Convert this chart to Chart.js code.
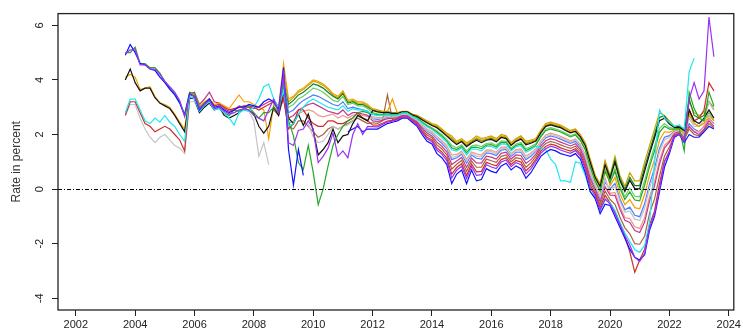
<!DOCTYPE html>
<html><head><meta charset="utf-8">
<script src="https://cdn.jsdelivr.net/npm/chart.js@4.4.1/dist/chart.umd.min.js"></script>
<style>html,body{margin:0;padding:0;background:#fff;overflow:hidden}</style>
</head><body><canvas id="c" width="743" height="333"></canvas>
<script>
const N = null;
const dates = [
"2003-09","2003-11",
"2004-01","2004-03","2004-05","2004-07","2004-09","2004-11",
"2005-01","2005-03","2005-05","2005-07","2005-09","2005-11",
"2006-01","2006-03","2006-05","2006-07","2006-09","2006-11",
"2007-01","2007-03","2007-05","2007-07","2007-09","2007-11",
"2008-01","2008-03","2008-05","2008-07","2008-09","2008-11",
"2009-01","2009-03","2009-05","2009-07","2009-09","2009-11",
"2010-01","2010-03","2010-05","2010-07","2010-09","2010-11",
"2011-01","2011-03","2011-05","2011-07","2011-09","2011-11",
"2012-01","2012-03","2012-05","2012-07","2012-09","2012-11",
"2013-01","2013-03","2013-05","2013-07","2013-09","2013-11",
"2014-01","2014-03","2014-05","2014-07","2014-09","2014-11",
"2015-01","2015-03","2015-05","2015-07","2015-09","2015-11",
"2016-01","2016-03","2016-05","2016-07","2016-09","2016-11",
"2017-01","2017-03","2017-05","2017-07","2017-09","2017-11",
"2018-01","2018-03","2018-05","2018-07","2018-09","2018-11",
"2019-01","2019-03","2019-05","2019-07","2019-09","2019-11",
"2020-01","2020-03","2020-05","2020-07","2020-09","2020-11",
"2021-01","2021-03","2021-05","2021-07","2021-09","2021-11",
"2022-01","2022-03","2022-05","2022-07","2022-09","2022-11",
"2023-01","2023-03","2023-05","2023-07"];

const xTicks = [2002,2004,2006,2008,2010,2012,2014,2016,2018,2020,2022,2024];
const yTicks = [-4,-2,0,2,4,6];

const blue = [
4.9,5.3,
5.0,4.6,4.55,4.4,4.35,4.1,
3.9,3.65,3.45,3.15,2.7,3.5,
3.4,2.9,3.1,3.3,3.0,3.05,
2.9,2.8,2.9,3.0,3.0,3.1,
3.05,3.0,3.2,3.3,3.2,2.9,
4.45,1.45,0.15,1.45,0.5,N,
N,N,N,N,N,N,
N,2.1,2.2,2.3,2.1,2.2,
2.2,2.2,2.3,2.4,2.45,2.5,
2.6,2.6,2.45,2.3,2.0,1.75,
1.65,1.3,1.15,0.9,0.2,0.55,
0.7,0.2,0.7,0.3,0.35,0.75,
0.65,0.6,0.85,0.95,0.7,0.85,
0.75,0.4,0.6,0.9,1.2,1.35,
1.45,1.4,1.3,1.25,1.2,1.3,
1.1,0.6,-0.1,-0.35,-0.9,-0.55,
-0.6,-1.0,-1.4,-1.8,-2.2,-2.5,
-2.6,-2.4,-1.5,-1.0,-0.1,0.8,
1.3,1.9,2.0,1.7,2.0,1.9,
1.9,2.1,2.3,2.2];

const green = [
5.0,5.0,
5.2,4.6,4.6,4.45,4.45,4.25,
3.95,3.7,3.5,3.2,2.75,3.55,
3.5,3.0,3.15,3.3,2.95,2.95,
2.8,2.7,2.9,2.85,2.95,3.0,
2.8,2.6,2.8,2.8,3.0,2.8,
3.7,2.5,1.95,0.97,0.72,1.6,
0.6,-0.57,0.0,0.85,1.6,2.0,
2.3,2.5,2.6,2.8,2.85,2.8,
2.76,2.73,2.71,2.74,2.71,2.72,
2.79,2.79,2.68,2.6,2.45,2.31,
2.21,2.09,1.94,1.76,1.51,1.45,
1.56,1.33,1.53,1.54,1.48,1.61,
1.63,1.54,1.71,1.7,1.45,1.6,
1.65,1.41,1.5,1.61,1.91,2.14,
2.2,2.15,2.09,2.0,1.91,1.98,
1.78,1.43,0.8,0.29,-0.08,0.65,
0.23,0.65,0.03,-0.38,-0.1,-0.4,
-0.43,0.15,0.83,1.4,2.08,2.3,
2.2,2.2,2.22,1.4,3.55,2.95,
2.6,2.5,3.55,3.05];

const purple = [
4.95,5.1,
5.1,4.55,4.55,4.4,4.4,4.2,
3.95,3.75,3.55,3.25,2.65,3.45,
3.4,2.95,3.1,3.25,2.95,3.0,
2.85,2.75,2.8,2.9,2.95,2.9,
2.7,2.6,2.5,2.9,3.3,2.8,
4.2,1.7,1.6,2.15,2.2,2.5,
2.2,0.97,1.2,1.5,2.05,1.2,
1.4,1.15,2.0,2.4,2.0,2.3,
2.29,2.28,2.37,2.45,2.49,2.54,
2.63,2.63,2.49,2.35,2.07,1.84,
1.74,1.43,1.28,1.04,0.41,0.69,
0.84,0.38,0.83,0.5,0.53,0.89,
0.81,0.75,0.99,1.07,0.82,0.97,
0.89,0.56,0.74,1.01,1.31,1.48,
1.57,1.52,1.43,1.37,1.31,1.41,
1.21,0.73,0.04,-0.25,-0.77,-0.36,
-0.55,-0.89,-1.3,-1.7,-2.05,-2.5,
-2.65,-2.35,-1.4,-0.9,0.0,1.0,
1.35,1.95,2.0,1.75,3.3,3.9,
3.3,3.6,6.3,4.85];

const black = [
4.0,4.4,
3.9,3.6,3.7,3.7,3.35,3.15,
3.05,2.95,2.7,2.4,2.1,3.35,
3.3,2.8,3.0,3.15,2.9,3.0,
2.7,2.6,2.7,2.8,2.95,2.9,
2.75,2.3,2.05,2.3,3.0,2.7,
3.6,2.6,2.4,2.75,2.33,2.75,
2.15,1.25,1.45,1.7,2.2,1.7,
1.95,2.0,2.4,2.7,2.6,2.5,
2.88,2.83,2.8,2.81,2.77,2.77,
2.83,2.83,2.72,2.66,2.54,2.43,
2.33,2.25,2.1,1.94,1.78,1.63,
1.74,1.55,1.69,1.79,1.7,1.79,
1.82,1.73,1.89,1.85,1.6,1.75,
1.83,1.62,1.68,1.76,2.06,2.3,
2.35,2.3,2.25,2.15,2.06,2.11,
1.91,1.59,0.98,0.42,0.09,0.89,
0.39,0.98,0.31,-0.09,0.32,0.02,
0.01,0.66,1.29,1.88,2.51,2.6,
2.38,2.26,2.27,2.15,2.9,2.5,
2.4,2.6,2.9,2.6];

const orange = [
4.1,4.2,
4.1,3.65,3.7,3.75,3.4,3.15,
3.1,3.0,2.75,2.45,2.2,3.5,
3.45,3.05,3.2,3.3,3.1,3.15,
3.05,2.95,3.2,3.45,3.2,3.2,
3.1,3.0,2.9,1.85,3.1,3.0,
4.6,3.3,3.4,3.6,3.7,3.85,
4.0,3.95,3.85,3.7,3.5,3.4,
3.6,3.25,3.3,3.2,3.2,3.1,
2.92,2.87,2.83,2.83,3.3,2.79,
2.84,2.84,2.74,2.68,2.58,2.47,
2.37,2.31,2.16,2.0,1.88,1.7,
1.8,1.64,1.76,1.88,1.79,1.85,
1.9,1.8,1.95,1.91,1.66,1.81,
1.9,1.7,1.75,1.81,2.11,2.36,
2.41,2.36,2.31,2.21,2.11,2.16,
1.96,1.66,1.05,0.47,0.16,0.99,
0.12,0.43,-0.17,-0.57,-0.38,-0.68,
-0.72,-0.19,0.52,1.08,1.79,2.1,
2.08,2.16,2.2,2.03,2.8,2.4,
2.3,2.4,2.7,2.5];

const red = [
2.7,3.2,
3.2,2.8,2.4,2.3,2.1,2.2,
2.3,2.2,2.0,1.8,1.4,3.3,
3.4,2.9,3.15,3.3,3.05,3.1,
3.0,2.9,2.95,3.0,3.05,3.05,
3.0,2.9,3.0,3.1,3.2,2.9,
3.3,2.2,2.4,2.9,2.9,2.6,
2.4,2.3,2.3,2.5,2.5,2.4,
2.4,2.5,2.6,2.8,2.6,2.5,
2.35,2.34,2.41,2.49,2.52,2.56,
2.65,2.65,2.51,2.38,2.12,1.9,
1.8,1.51,1.36,1.13,0.55,0.79,
0.93,0.5,0.92,0.63,0.65,0.98,
0.91,0.85,1.08,1.15,0.9,1.05,
0.99,0.67,0.84,1.09,1.39,1.56,
1.65,1.6,1.51,1.45,1.39,1.48,
1.28,0.82,0.14,-0.18,-0.68,-0.23,
-0.5,-0.85,-1.3,-1.75,-2.3,-3.05,
-2.6,-2.2,-1.3,-0.8,0.2,1.0,
1.4,1.95,2.03,1.75,2.9,2.5,
2.6,2.9,3.9,3.6];

const cyan = [
2.8,3.3,
3.3,2.9,2.5,2.4,2.6,2.45,
2.7,2.45,2.3,2.0,1.75,3.4,
3.3,2.85,3.05,3.2,2.9,2.95,
2.8,2.6,2.35,2.8,2.9,2.85,
3.0,3.3,3.75,3.85,3.3,3.0,
3.6,2.3,2.4,2.75,3.0,3.2,
3.3,3.2,3.1,3.0,2.95,2.9,
3.05,2.85,2.95,2.9,2.9,2.85,
2.73,2.69,2.69,2.72,2.7,2.71,
2.78,2.78,2.66,2.58,2.42,2.28,
2.18,2.04,1.89,1.71,1.43,1.39,
1.51,1.25,1.47,1.46,1.4,1.56,
1.56,1.48,1.66,1.65,1.4,1.55,
1.59,1.35,1.44,1.57,1.5,1.45,
1.1,0.9,0.3,0.3,0.25,1.0,
0.95,0.5,-0.1,-0.3,-0.8,-0.4,
-0.49,-0.78,-1.21,-1.61,-1.92,-2.22,
-2.31,-2.06,-1.19,1.0,2.9,2.6,
2.45,2.3,2.35,2.2,4.3,4.8,
N,N,N,N];

const gray = [
2.7,3.1,
3.1,2.6,2.2,1.9,1.7,1.9,
2.0,1.8,1.6,1.5,1.3,3.2,
3.2,2.8,3.0,3.2,2.95,3.0,
2.75,2.7,2.8,2.9,2.9,2.85,
2.5,1.2,1.7,0.9,N,N,
N,N,N,N,N,2.4,
1.9,1.7,1.75,2.0,2.3,2.2,
2.3,2.35,2.5,2.65,2.6,2.55,
2.61,2.59,2.6,2.65,2.64,2.67,
2.74,2.74,2.62,2.52,2.33,2.16,
2.06,1.88,1.73,1.53,1.16,1.21,
1.33,1.03,1.31,1.21,1.18,1.38,
1.37,1.29,1.48,1.5,1.25,1.4,
1.41,1.14,1.26,1.42,1.72,1.93,
2.0,1.95,1.88,1.8,1.72,1.8,
1.6,1.2,0.56,0.12,-0.3,0.33,
-0.05,0.1,-0.45,-0.85,-0.8,-1.1,
-1.15,-0.7,0.05,0.6,1.35,1.8,
1.9,2.1,2.15,1.95,2.6,2.3,
2.3,2.5,3.2,2.9];

const magenta = [
N,N,
N,N,N,N,N,N,
N,N,N,N,N,3.5,
3.55,3.1,3.3,3.55,3.2,3.15,
2.95,2.85,2.9,3.05,3.0,3.0,
2.95,3.0,3.1,3.2,3.25,3.0,
3.5,2.6,2.7,2.9,3.0,3.1,
3.15,3.05,2.95,2.85,2.8,2.75,
2.9,2.7,2.8,2.8,2.75,2.7,
2.5,2.48,2.52,2.58,2.59,2.62,
2.7,2.7,2.57,2.46,2.24,2.05,
1.95,1.72,1.57,1.36,0.9,1.03,
1.16,0.8,1.14,0.96,0.95,1.21,
1.17,1.1,1.31,1.35,1.1,1.25,
1.23,0.94,1.08,1.28,1.58,1.77,
1.85,1.8,1.72,1.65,1.58,1.66,
1.46,1.04,0.38,-0.01,-0.46,0.09,
-0.22,-0.23,-0.74,-1.14,-1.22,-1.52,
-1.59,-1.21,-0.42,0.12,0.92,1.5,
1.72,2.04,2.1,1.88,2.3,2.1,
2.0,2.2,2.5,2.3];

const olive = [
N,N,
N,N,N,N,N,N,
N,N,N,N,N,N,
N,N,N,N,N,N,
N,N,N,N,N,N,
N,N,N,N,3.2,3.0,
4.3,3.2,3.35,3.55,3.65,3.8,
3.95,3.9,3.8,3.65,3.45,3.35,
3.55,3.2,3.25,3.15,3.15,3.05,
2.95,2.9,2.85,2.85,2.8,2.8,
2.85,2.85,2.75,2.7,2.6,2.5,
2.4,2.35,2.2,2.05,1.95,1.75,
1.85,1.7,1.8,1.95,1.85,1.9,
1.95,1.85,2.0,1.95,1.7,1.85,
1.95,1.75,1.8,1.85,2.15,2.4,
2.45,2.4,2.35,2.25,2.15,2.2,
2.0,1.7,1.1,0.5,0.2,1.05,
0.5,1.2,0.5,0.1,0.6,0.3,
0.3,1.0,1.6,2.2,2.8,2.7,
2.5,2.3,2.3,2.2,3.2,2.8,
2.7,2.8,3.2,3.0];

const dkgreen = [
N,N,
N,N,N,N,N,N,
N,N,N,N,N,N,
N,N,N,N,N,N,
N,N,N,N,N,N,
N,N,N,N,3.15,2.95,
3.9,3.1,3.25,3.45,3.55,3.7,
3.85,3.8,3.7,3.55,3.4,3.3,
3.5,3.15,3.2,3.1,3.1,3.0,
2.9,2.86,2.82,2.82,2.78,2.78,
2.83,2.83,2.73,2.68,2.56,2.45,
2.35,2.29,2.14,1.98,1.85,1.68,
1.78,1.61,1.73,1.85,1.76,1.83,
1.87,1.78,1.93,1.89,1.64,1.79,
1.88,1.67,1.73,1.79,2.09,2.34,
2.39,2.34,2.29,2.19,2.09,2.15,
1.95,1.63,1.03,0.45,0.13,0.95,
0.43,1.07,0.39,-0.01,0.43,0.13,
0.13,0.8,1.41,2.0,2.63,2.68,
2.43,2.28,2.28,2.17,3.3,2.7,
2.6,2.7,3.2,2.9];

const lgreen = [
N,N,
N,N,N,N,N,N,
N,N,N,N,N,N,
N,N,N,N,N,N,
N,N,N,N,N,N,
N,N,N,N,3.1,2.9,
3.7,3.0,3.1,3.3,3.4,3.55,
3.7,3.65,3.55,3.4,3.25,3.2,
3.4,3.1,3.15,3.05,3.05,2.95,
2.8,2.76,2.74,2.76,2.73,2.74,
2.8,2.8,2.69,2.62,2.48,2.35,
2.25,2.14,1.99,1.82,1.6,1.51,
1.62,1.4,1.58,1.62,1.55,1.67,
1.69,1.6,1.77,1.75,1.5,1.65,
1.71,1.48,1.56,1.66,1.96,2.19,
2.25,2.2,2.14,2.05,1.96,2.02,
1.82,1.48,0.86,0.33,-0.02,0.73,
0.28,0.76,0.12,-0.28,0.04,-0.26,
-0.28,0.32,0.98,1.56,2.22,2.4,
2.26,2.22,2.24,2.1,2.7,2.4,
2.3,2.5,2.8,2.5];

const royal = [
N,N,
N,N,N,N,N,N,
N,N,N,N,N,N,
N,N,N,N,N,N,
N,N,N,N,N,N,
N,N,N,N,3.3,3.0,
4.0,2.8,2.9,3.1,3.25,3.35,
3.45,3.4,3.3,3.2,3.1,3.05,
3.2,2.95,3.0,2.95,2.9,2.85,
2.58,2.55,2.58,2.63,2.63,2.65,
2.73,2.73,2.6,2.5,2.3,2.13,
2.03,1.83,1.68,1.48,1.08,1.15,
1.28,0.95,1.25,1.13,1.1,1.33,
1.3,1.23,1.43,1.45,1.2,1.35,
1.35,1.08,1.2,1.38,1.68,1.88,
1.95,1.9,1.83,1.75,1.68,1.75,
1.55,1.15,0.5,0.08,-0.35,0.25,
0.01,0.21,-0.36,-0.76,-0.66,-0.96,
-1.01,-0.53,0.2,0.76,1.5,1.9,
1.96,2.12,2.17,1.98,2.4,2.2,
2.1,2.3,2.6,2.4];

const salmon = [
N,N,
N,N,N,N,N,N,
N,N,N,N,N,N,
N,N,N,N,N,N,
N,N,N,N,N,N,
N,N,N,N,3.0,2.8,
3.3,2.4,2.5,2.75,2.85,2.9,
2.85,2.7,2.65,2.7,2.75,2.6,
2.7,2.6,2.7,2.75,2.7,2.65,
2.65,2.62,2.63,2.67,2.66,2.68,
2.75,2.75,2.63,2.54,2.36,2.2,
2.1,1.93,1.78,1.59,1.25,1.27,
1.39,1.1,1.36,1.29,1.25,1.44,
1.43,1.35,1.54,1.55,1.3,1.45,
1.47,1.21,1.32,1.47,1.77,1.98,
2.05,2.0,1.93,1.85,1.77,1.84,
1.64,1.26,0.62,0.16,-0.24,0.41,
-0.16,-0.12,-0.64,-1.04,-1.08,-1.38,
-1.44,-1.04,-0.26,0.28,1.06,1.6,
1.78,2.06,2.12,1.9,2.3,2.1,
2.1,2.3,2.6,2.4];

const brown = [
N,N,
N,N,N,N,N,N,
N,N,N,N,N,N,
N,N,N,N,N,N,
N,N,N,N,N,N,
N,N,N,N,2.9,2.7,
3.4,2.3,2.2,2.5,2.5,2.3,
2.1,1.9,2.0,2.2,2.3,2.2,
2.3,2.4,2.5,2.6,2.5,2.4,
2.43,2.41,2.5,3.45,2.55,2.59,
2.68,2.68,2.54,2.42,2.18,1.98,
1.88,1.62,1.47,1.25,0.73,0.91,
1.05,0.65,1.03,0.8,0.8,1.1,
1.04,0.98,1.2,1.25,1.0,1.15,
1.11,0.8,0.96,1.19,1.49,1.67,
1.75,1.7,1.62,1.55,1.49,1.57,
1.37,0.93,0.26,-0.1,-0.57,-0.07,
-0.38,-0.56,-1.02,-1.42,-1.64,-2.0,
-2.02,-1.72,-0.88,-0.36,0.48,1.2,
1.54,1.98,2.06,1.8,2.2,2.0,
1.95,2.15,2.4,2.25];

const FONT = "'Liberation Sans', Arial, Helvetica, sans-serif";
const xs = dates.map(d => { const p = d.split('-').map(Number); return p[0] + (p[1] - 1) / 12; });
const pts = vals => vals.map((v, i) => ({ x: xs[i], y: v }));

const seriesList = [
  ['purple', purple, '#9B30F5'],
  ['blue', blue, '#1010FF'],
  ['cyan', cyan, '#1EE8F0'],
  ['green', green, '#25A825'],
  ['black', black, '#111111'],
  ['red', red, '#D02C2C'],
  ['orange', orange, '#F5A000'],
  ['gray', gray, '#C4C4C4'],
  ['magenta', magenta, '#C8358C'],
  ['brown', brown, '#A8653A'],
  ['salmon', salmon, '#F2968C'],
  ['royal', royal, '#4C7CFF'],
  ['lgreen', lgreen, '#66D066'],
  ['dkgreen', dkgreen, '#1B7F1B'],
  ['olive', olive, '#BFA800']
];

const frame = {
  id: 'frame',
  afterDatasetsDraw(chart) {
    const { ctx, chartArea: a, scales: { y } } = chart;
    ctx.save();
    const y0 = Math.round(y.getPixelForValue(0)) + 0.5;
    ctx.strokeStyle = '#000';
    ctx.lineWidth = 1;
    ctx.setLineDash([4, 2, 1, 2]);
    ctx.beginPath(); ctx.moveTo(a.left, y0); ctx.lineTo(a.right, y0); ctx.stroke();
    ctx.setLineDash([]);
    ctx.strokeStyle = '#222';
    ctx.lineWidth = 1.3;
    ctx.strokeRect(a.left, a.top, a.right - a.left, a.bottom - a.top);
    ctx.restore();
  }
};

const tickFont = { family: FONT, size: 11 };
new Chart(document.getElementById('c'), {
  type: 'line',
  data: {
    datasets: seriesList.map(s => ({
      label: s[0], data: pts(s[1]), borderColor: s[2], backgroundColor: s[2],
      borderWidth: 1.2, pointRadius: 0, tension: 0, spanGaps: false, fill: false
    }))
  },
  options: {
    responsive: false, animation: false, devicePixelRatio: 1,
    layout: { padding: { top: 8, right: 2, left: 0, bottom: 0 } },
    plugins: { legend: { display: false }, tooltip: { enabled: false } },
    scales: {
      x: {
        type: 'linear', min: 2001.4, max: 2024.17,
        afterFit: s => { s.height = 23; },
        afterBuildTicks: s => { s.ticks = xTicks.map(v => ({ value: v })); },
        border: { display: false },
        grid: { drawOnChartArea: false, drawTicks: true, tickLength: 6, color: '#222' },
        ticks: { autoSkip: false, maxRotation: 0, minRotation: 0, padding: 2, color: '#222', font: tickFont, callback: v => String(v) }
      },
      y: {
        type: 'linear', min: -4.43, max: 6.43,
        afterFit: s => { s.width = 58; },
        afterBuildTicks: s => { s.ticks = yTicks.map(v => ({ value: v })); },
        border: { display: false },
        grid: { drawOnChartArea: false, drawTicks: true, tickLength: 6, color: '#222' },
        ticks: { minRotation: 90, maxRotation: 90, crossAlign: 'center', padding: 7, color: '#222', font: tickFont, callback: v => String(v) },
        title: { display: true, text: 'Rate in percent', color: '#333', font: { family: FONT, size: 12 }, padding: { top: 9, bottom: 0 } }
      }
    }
  },
  plugins: [frame]
});
</script></body></html>
